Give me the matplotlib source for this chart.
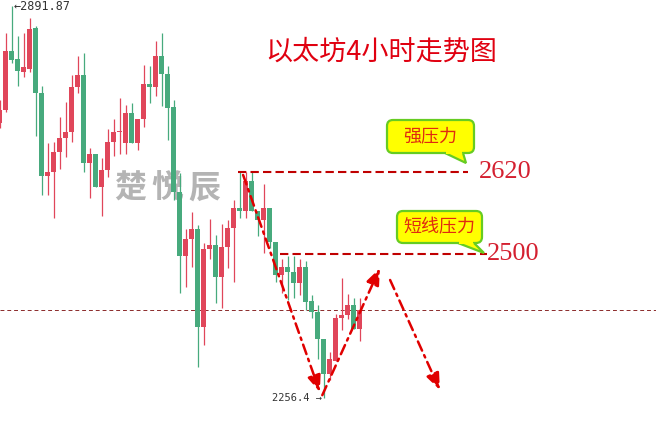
import matplotlib
matplotlib.use("Agg")
import matplotlib.pyplot as plt
from matplotlib.patches import FancyBboxPatch, Polygon
import numpy as np

# ---------------- data (4h ETH candles) ----------------
opens = [2702.2, 2723.3, 2818.9, 2806.0, 2784.9, 2789.7, 2856.2, 2750.8, 2616.3, 2622.8,
         2655.2, 2677.9, 2687.6, 2760.6, 2780.0, 2637.4, 2652.0, 2598.5, 2626.0, 2671.4,
         2687.6, 2669.8, 2718.4, 2669.8, 2708.7, 2765.4, 2760.6, 2810.8, 2781.6, 2728.1,
         2590.3, 2486.6, 2514.2, 2530.4, 2371.5, 2498.0, 2504.4, 2452.6, 2501.2, 2532.0,
         2564.4, 2559.6, 2608.2, 2559.6, 2545.0, 2564.4, 2509.3, 2455.8, 2468.8, 2460.7,
         2442.8, 2468.8, 2413.7, 2395.8, 2352.0, 2295.3, 2316.4, 2386.1, 2391.0, 2407.2, 2368.3]
highs = [2739.5, 2848.1, 2891.87, 2843.2, 2848.1, 2872.4, 2859.5, 2762.2, 2669.8, 2671.4,
         2711.9, 2736.2, 2780.0, 2810.8, 2815.7, 2661.7, 2652.0, 2645.5, 2692.5, 2708.7,
         2742.7, 2731.4, 2734.6, 2708.7, 2796.2, 2794.6, 2835.1, 2848.1, 2794.6, 2739.5,
         2621.1, 2530.4, 2557.9, 2536.9, 2507.7, 2546.6, 2520.6, 2538.5, 2545.0, 2577.4,
         2622.8, 2622.8, 2624.4, 2559.6, 2603.3, 2564.4, 2509.3, 2481.7, 2486.6, 2486.6,
         2481.7, 2478.5, 2423.4, 2407.2, 2352.0, 2331.0, 2392.6, 2450.9, 2425.0, 2418.5, 2418.5]
lows = [2694.1, 2720.0, 2799.5, 2762.2, 2776.8, 2784.9, 2681.1, 2585.5, 2585.5, 2548.2,
        2627.6, 2647.1, 2671.4, 2750.8, 2622.8, 2580.6, 2598.5, 2551.4, 2614.7, 2648.7,
        2652.0, 2652.0, 2669.8, 2658.4, 2695.7, 2734.6, 2746.0, 2729.8, 2674.6, 2577.4,
        2426.6, 2436.3, 2468.8, 2306.7, 2342.3, 2481.7, 2410.4, 2402.3, 2467.1, 2444.5,
        2548.2, 2548.2, 2559.6, 2519.0, 2491.5, 2499.6, 2444.5, 2426.6, 2415.3, 2418.5,
        2423.4, 2399.1, 2386.1, 2319.6, 2256.4, 2285.6, 2316.4, 2366.6, 2384.5, 2368.3, 2348.8]
closes = [2723.3, 2818.9, 2804.3, 2786.5, 2793.0, 2854.6, 2750.8, 2616.3, 2622.8, 2655.2,
          2677.9, 2687.6, 2760.6, 2780.0, 2637.4, 2652.0, 2598.5, 2626.0, 2671.4, 2687.6,
          2689.2, 2718.4, 2669.8, 2708.7, 2765.4, 2760.6, 2810.8, 2781.6, 2726.5, 2590.3,
          2486.6, 2514.2, 2530.4, 2371.5, 2498.0, 2504.4, 2452.6, 2501.2, 2532.0, 2564.4,
          2559.6, 2608.2, 2559.6, 2545.0, 2564.4, 2509.3, 2455.8, 2468.8, 2460.7, 2442.8,
          2468.8, 2412.0, 2395.8, 2352.0, 2295.3, 2319.6, 2386.1, 2391.0, 2407.2, 2368.3, 2399.1]

high_label = "2891.87"
low_label = "2256.4"
title_text = "以太坊4小时走势图"
watermark_chars = ["楚", "悦", "辰"]

level_prices = [2623.0, 2490.0]          # drawn resistance lines
level_labels = ["2620", "2500"]
level_x_ranges = [(39.7, 78.1), (46.75, 81.2)]
level_label_x = [79.9, 81.3]
callout_texts = ["强压力", "短线压力"]

# projected path arrows: (x0, p0) -> (x1, p1) in candle index / price
arrow_paths = [((40.6, 2618.0), (53.4, 2266.0)),
               ((53.8, 2261.0), (63.4, 2467.0)),
               ((65.1, 2447.7), (73.4, 2269.4))]

# ---------------- figure ----------------
plt.rcParams['font.family'] = ['Noto Sans CJK SC', 'DejaVu Sans']
W, H = 656, 424
fig = plt.figure(figsize=(W / 100, H / 100), dpi=100)
fig.patch.set_facecolor('white')
ax = fig.add_axes([0, 0, 1, 1])
ax.set_axis_off()

def px2price(y):
    return 2901.6 - 1.6211 * y

ax.set_xlim(0.5 / 6, 656.5 / 6)
ax.set_ylim(px2price(424), px2price(0))

RED = '#e0465a'
GREEN = '#47aa7d'
n = len(opens)
x = np.arange(n)
o = np.array(opens); c = np.array(closes)
hi = np.array(highs); lo = np.array(lows)
up = c >= o
cols = [RED if u else GREEN for u in up]

# watermark (behind)
for k, ch in enumerate(watermark_chars):
    ax.text((130 + 37 * k) / W, 1 - 189 / H, ch, transform=ax.transAxes,
            fontsize=23, fontweight='bold', color='#b4b4b4', ha='center', va='center',
            zorder=1)

ax.vlines(x, lo, hi, colors=cols, linewidth=0.9, zorder=3)
heights = np.maximum(np.abs(c - o), 1.4)
ax.bar(x, heights, bottom=np.minimum(o, c), width=0.8, color=cols, linewidth=0, zorder=4)

# current price line
ax.axhline(closes[-1], color='#8b2a2a', linewidth=0.7, dashes=(4, 3), zorder=2)

# resistance lines and labels
for lvl, lab, (xa, xb), lx in zip(level_prices, level_labels, level_x_ranges, level_label_x):
    ax.plot([xa, xb], [lvl, lvl], color='#c00000', linewidth=1.5, dashes=(4, 2), zorder=5)
    ax.text(lx, lvl, lab, fontsize=19, color='#d42030', ha='left', va='center',
            family=['Liberation Serif'], zorder=6)

# projection arrows
for (p0, p1) in arrow_paths:
    ax.annotate('', xy=p1, xytext=p0,
                arrowprops=dict(arrowstyle='-|>,head_length=1.0,head_width=0.4',
                                color='#e00000', lw=1.8, linestyle=(0, (4, 2, 1, 2)),
                                shrinkA=0, shrinkB=0),
                zorder=7)

# high / low labels
ax.text(14 / W, 1 - 6 / H, "\u2190" + high_label, transform=ax.transAxes,
        fontsize=8.5, color='#333333', ha='left', va='center', family=['DejaVu Sans Mono'])
ax.text(322 / W, 1 - 398 / H, low_label + " \u2192", transform=ax.transAxes,
        fontsize=7.5, color='#333333', ha='right', va='center', family=['DejaVu Sans Mono'])

# ---------------- overlay in pixel coordinates ----------------
ov = fig.add_axes([0, 0, 1, 1], zorder=10)
ov.set_axis_off()
ov.patch.set_alpha(0)
ov.set_xlim(0, W)
ov.set_ylim(H, 0)

ov.text(381, 52, title_text, fontsize=19.5, color='#e00010', ha='center', va='center')

def callout(x0, y0, x1, y1, tail, text, fs):
    box = FancyBboxPatch((x0, y0), x1 - x0, y1 - y0,
                         boxstyle='round,pad=0,rounding_size=6',
                         facecolor='#ffff00', edgecolor='#66cc22', linewidth=1.6, zorder=1)
    ov.add_patch(box)
    tail_poly = Polygon(tail, closed=False, facecolor='#ffff00', edgecolor='#66cc22',
                        linewidth=1.6, zorder=2)
    ov.add_patch(tail_poly)
    # cover seam
    ov.add_patch(Polygon([(tail[0][0] + 1, y1 - 2), (tail[2][0] - 1, y1 - 2),
                          (tail[2][0] - 1, y1 + 0.5), (tail[0][0] + 1, y1 + 0.5)],
                         closed=True, facecolor='#ffff00', edgecolor='none', zorder=3))
    ov.text((x0 + x1) / 2, (y0 + y1) / 2, text, fontsize=fs, color='#e02a10',
            ha='center', va='center', zorder=4)

callout(387, 120, 474, 153, [(445, 153), (466, 163), (463, 153)], callout_texts[0], 13)
callout(397, 211, 482, 243, [(458, 243), (484, 253), (474, 243)], callout_texts[1], 13)

fig.savefig('out.png', dpi=100, facecolor='white')
